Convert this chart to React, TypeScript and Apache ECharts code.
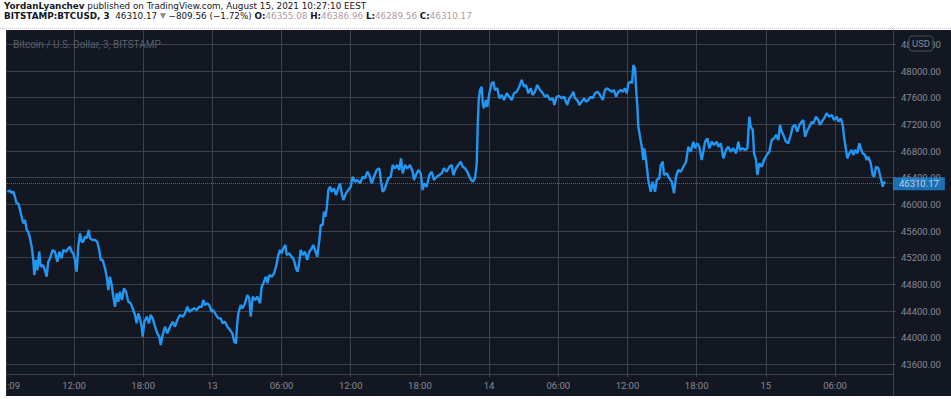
import React, { useEffect, useRef } from "react";
import * as echarts from "echarts";

// Hours since 12 Aug 2021 00:00 (EEST)
const TIME_H = [
  6.22, 6.45, 6.6, 6.74, 6.88, 7.03, 7.17, 7.32, 7.46, 7.6, 7.75, 7.9, 8.04, 8.18, 8.33, 8.47, 8.56, 8.7, 8.82, 8.99,
  9.11, 9.29, 9.42, 9.63, 9.77, 9.92, 10.15, 10.35, 10.55, 10.73, 10.93, 11.07, 11.31, 11.51, 11.65, 11.8, 11.94, 12.09, 12.23, 12.37,
  12.52, 12.67, 12.81, 12.95, 13.1, 13.28, 13.39, 13.62, 13.82, 14.02, 14.19, 14.32, 14.49, 14.69, 14.84, 14.98, 15.12, 15.27, 15.41, 15.56,
  15.7, 15.84, 15.99, 16.16, 16.34, 16.51, 16.71, 16.92, 17.14, 17.29, 17.44, 17.58, 17.72, 17.87, 17.96, 18.1, 18.31, 18.5, 18.65, 18.83,
  19.03, 19.22, 19.4, 19.52, 19.69, 19.89, 20.09, 20.33, 20.56, 20.76, 20.96, 21.19, 21.43, 21.63, 21.83, 22.0, 22.21, 22.41, 22.64, 22.87,
  23.08, 23.21, 23.36, 23.56, 23.73, 23.94, 24.08, 24.32, 24.52, 24.72, 24.9, 25.1, 25.3, 25.53, 25.73, 25.9, 26.05, 26.16, 26.25, 26.46,
  26.63, 26.83, 27.03, 27.2, 27.33, 27.5, 27.7, 27.9, 28.13, 28.28, 28.42, 28.65, 28.77, 28.94, 29.15, 29.35, 29.52, 29.72, 29.87, 30.01,
  30.15, 30.33, 30.45, 30.67, 30.88, 31.08, 31.25, 31.4, 31.54, 31.66, 31.84, 32.03, 32.23, 32.41, 32.62, 32.75, 32.9, 33.1, 33.28, 33.4,
  33.57, 33.68, 33.8, 33.92, 34.06, 34.2, 34.35, 34.55, 34.72, 34.92, 35.07, 35.22, 35.36, 35.59, 35.79, 36.0, 36.17, 36.37, 36.57, 36.81,
  37.04, 37.24, 37.44, 37.61, 37.82, 38.02, 38.25, 38.48, 38.63, 38.77, 38.91, 39.06, 39.26, 39.47, 39.64, 39.84, 40.04, 40.21, 40.36, 40.51,
  40.71, 40.91, 41.14, 41.38, 41.49, 41.66, 41.86, 42.07, 42.24, 42.38, 42.59, 42.82, 43.02, 43.22, 43.46, 43.68, 43.89, 44.09, 44.32, 44.55,
  44.76, 44.9, 45.13, 45.33, 45.54, 45.71, 45.91, 46.11, 46.35, 46.58, 46.78, 46.93, 47.01, 47.1, 47.21, 47.36, 47.45, 47.56, 47.73, 47.85,
  48.02, 48.23, 48.37, 48.51, 48.71, 48.89, 49.1, 49.29, 49.53, 49.75, 49.96, 50.16, 50.4, 50.62, 50.83, 51.03, 51.2, 51.4, 51.61, 51.78,
  51.98, 52.18, 52.42, 52.65, 52.85, 53.05, 53.28, 53.52, 53.66, 53.86, 54.09, 54.3, 54.5, 54.67, 54.78, 54.96, 55.17, 55.3, 55.45, 55.65,
  55.83, 56.03, 56.23, 56.41, 56.61, 56.81, 56.99, 57.19, 57.39, 57.62, 57.86, 58.05, 58.25, 58.43, 58.64, 58.84, 59.01, 59.21, 59.42, 59.59,
  59.79, 59.94, 60.08, 60.28, 60.4, 60.51, 60.66, 60.74, 60.86, 60.94, 61.09, 61.24, 61.38, 61.46, 61.61, 61.81, 62.02, 62.19, 62.39, 62.54,
  62.76, 62.89, 63.06, 63.17, 63.41, 63.63, 63.84, 64.04, 64.21, 64.41, 64.62, 64.85, 65.08, 65.28, 65.49, 65.71, 65.86, 66.06, 66.23, 66.44,
  66.58, 66.73, 66.93, 67.1, 67.31, 67.51, 67.74, 67.88, 68.09, 68.32, 68.55, 68.75, 68.96, 69.18, 69.42, 69.62, 69.76, 70.0, 70.2, 70.4,
  70.57, 70.69, 70.87, 70.98, 71.15, 71.26, 71.44, 71.65, 71.85, 72.08, 72.3, 72.51, 72.71, 72.89, 73.09, 73.23, 73.38, 73.52, 73.75, 73.95,
  74.16, 74.33, 74.53, 74.73, 74.91, 75.11, 75.25, 75.4, 75.55, 75.77, 75.98, 76.12, 76.35, 76.55, 76.7, 76.85, 77.05, 77.28, 77.51, 77.72,
  77.92, 78.15, 78.29, 78.5, 78.67, 78.78, 78.96, 79.07, 79.24, 79.45, 79.59, 79.74, 79.94, 80.11, 80.23, 80.4, 80.6, 80.75, 80.89, 81.1,
  81.27, 81.39, 81.56, 81.76, 81.97, 82.14, 82.25, 82.34,
];

// BTC/USD price (Bitstamp, 3-minute)
const PRICE = [
  46189, 46204, 46170, 46189, 46114, 46015, 46015, 45915, 45814, 45715, 45765, 45615, 45589, 45490, 45364, 45165, 44940, 45165, 45015, 45289,
  45064, 45090, 45040, 44914, 45139, 45190, 45315, 45289, 45139, 45289, 45190, 45315, 45289, 45340, 45364, 45289, 45265, 45165, 44989, 45364,
  45565, 45439, 45439, 45514, 45490, 45615, 45490, 45465, 45465, 45439, 45315, 45165, 45165, 45040, 44914, 44715, 44914, 44790, 44614, 44464,
  44665, 44539, 44689, 44565, 44740, 44689, 44539, 44515, 44415, 44340, 44215, 44365, 44290, 44164, 44014, 44239, 44314, 44215, 44340, 44290,
  44164, 44065, 44014, 43890, 44040, 44164, 44065, 44164, 44239, 44164, 44265, 44340, 44314, 44365, 44464, 44389, 44415, 44440, 44415, 44464,
  44464, 44565, 44490, 44515, 44490, 44389, 44415, 44340, 44290, 44290, 44215, 44239, 44164, 44115, 44065, 43939, 43915, 44215, 44365, 44490,
  44440, 44515, 44640, 44590, 44314, 44614, 44565, 44614, 44515, 44764, 44815, 44914, 44815, 44940, 44914, 44965, 45064, 45240, 45315, 45265,
  45340, 45390, 45240, 45265, 45214, 45165, 45040, 44989, 45139, 45315, 45240, 45289, 45165, 45289, 45340, 45390, 45315, 45214, 45465, 45690,
  45690, 45889, 45814, 45940, 46215, 46264, 46189, 46240, 46140, 46240, 46315, 46165, 46065, 46165, 46215, 46264, 46414, 46339, 46365, 46315,
  46414, 46390, 46489, 46440, 46315, 46414, 46515, 46540, 46339, 46189, 46215, 46290, 46390, 46414, 46590, 46540, 46590, 46515, 46690, 46465,
  46590, 46540, 46590, 46489, 46365, 46440, 46515, 46465, 46215, 46315, 46264, 46440, 46489, 46365, 46414, 46440, 46465, 46540, 46489, 46564,
  46590, 46440, 46540, 46590, 46639, 46564, 46540, 46489, 46390, 46339, 46390, 46615, 47164, 47565, 47715, 47764, 47515, 47440, 47565, 47464,
  47665, 47815, 47839, 47715, 47740, 47590, 47640, 47565, 47665, 47614, 47565, 47665, 47689, 47764, 47865, 47764, 47790, 47665, 47740, 47640,
  47689, 47790, 47715, 47665, 47614, 47640, 47565, 47590, 47490, 47614, 47625, 47590, 47614, 47539, 47490, 47590, 47640, 47689, 47590, 47565,
  47490, 47539, 47590, 47539, 47565, 47614, 47590, 47665, 47689, 47640, 47565, 47715, 47740, 47715, 47689, 47715, 47614, 47689, 47715, 47689,
  47740, 47665, 47815, 47839, 47815, 48090, 48040, 47764, 47464, 47164, 47014, 46864, 46665, 46840, 46665, 46365, 46189, 46339, 46189, 46365,
  46390, 46590, 46639, 46440, 46465, 46390, 46339, 46165, 46414, 46515, 46489, 46564, 46639, 46864, 46789, 46939, 46840, 46915, 46864, 46665,
  46789, 46939, 46990, 46840, 46939, 46890, 46939, 46864, 46915, 46690, 46815, 46864, 46789, 46840, 46765, 46939, 46815, 46840, 46815, 46840,
  47314, 47164, 47115, 46765, 46665, 46440, 46615, 46564, 46665, 46740, 46789, 46965, 46990, 47040, 46965, 47190, 47089, 47040, 46939, 46915,
  47040, 47164, 47190, 47089, 47190, 47239, 47265, 47014, 47089, 47164, 47239, 47215, 47314, 47265, 47190, 47239, 47290, 47365, 47314, 47340,
  47265, 47314, 47239, 47290, 47190, 47014, 46815, 46690, 46765, 46815, 46740, 46815, 46765, 46915, 46840, 46765, 46740, 46665, 46714, 46615,
  46440, 46414, 46564, 46540, 46390, 46264, 46339, 46310.17,
];

const PRICE_TICKS = [43600, 44000, 44400, 44800, 45200, 45600, 46000, 46400, 46800, 47200, 47600, 48000, 48400];
const TIME_TICKS = [12, 18, 24, 30, 36, 42, 48, 54, 60, 66, 72, 78];
const LAST_PRICE = 46310.17;
const X_RANGE = [6.19, 83.03];
const Y_RANGE = [43455, 48615];

const HEADER_1 = "{b|YordanLyanchev}{n| published on TradingView.com, August 15, 2021 10:27:10 EEST}";
const HEADER_2 =
  "{b|BITSTAMP:BTCUSD, 3}{n|  46310.17 }{g|▼}{n| −809.56 (−1.72%) }{b|O:}{v|46355.08 }{b|H:}{v|46386.96 }{b|L:}{v|46289.56 }{b|C:}{v|46310.17}";
const LEGEND = "Bitcoin / U.S. Dollar, 3, BITSTAMP";

const BG = "#131722";
const GRID = "#3d414d";
const AXIS_TXT = "#868993";
const BLUE = "#2196f3";
const FONT = "Roboto, 'Noto Sans', sans-serif";
const HFONT = "'DejaVu Sans'";
const HSIZE = 8.8;

function timeLabel(v: number): string {
  const h = Math.round(v);
  if (h % 24 === 0) return String(12 + h / 24);
  return String(h % 24).padStart(2, "0") + ":00";
}

export default function App() {
  const ref = useRef<HTMLDivElement>(null);
  useEffect(() => {
    if (!ref.current) return;
    const chart = echarts.init(ref.current, null, { renderer: "svg" });
    const data = TIME_H.map((t, i) => [t, PRICE[i]]);
    chart.setOption({
      animation: false,
      backgroundColor: "transparent",
      grid: { left: 7, right: 58, top: 30, bottom: 25, containLabel: false },
      xAxis: {
        type: "value",
        min: X_RANGE[0],
        max: X_RANGE[1],
        axisLine: { show: true, lineStyle: { color: GRID, width: 1 } },
        axisTick: { show: true, length: 3, customValues: TIME_TICKS, lineStyle: { color: GRID } },
        axisLabel: {
          customValues: TIME_TICKS,
          formatter: (v: number) => timeLabel(v),
          color: AXIS_TXT,
          fontSize: 9.5,
          fontFamily: FONT,
          margin: 6,
        },
        splitLine: { show: true, lineStyle: { color: GRID, width: 1 } },
      },
      yAxis: {
        type: "value",
        position: "right",
        min: Y_RANGE[0],
        max: Y_RANGE[1],
        axisLine: { show: true, lineStyle: { color: GRID, width: 1 } },
        axisTick: { show: true, length: 3, customValues: PRICE_TICKS, lineStyle: { color: GRID } },
        axisLabel: {
          customValues: PRICE_TICKS,
          formatter: (v: number) => v.toFixed(2),
          color: AXIS_TXT,
          fontSize: 9.5,
          fontFamily: FONT,
          margin: 8,
        },
        splitLine: { show: true, lineStyle: { color: GRID, width: 1 } },
      },
      series: [
        {
          type: "line",
          data,
          showSymbol: false,
          lineStyle: { color: BLUE, width: 2.4 },
          markLine: {
            silent: true,
            symbol: ["none", "none"],
            data: [{ yAxis: LAST_PRICE }],
            lineStyle: { type: "dotted", color: BLUE, width: 1, opacity: 0.7 },
            label: {
              show: true,
              position: "end",
              distance: 0,
              formatter: () => LAST_PRICE.toFixed(2),
              backgroundColor: BLUE,
              color: "#ffffff",
              fontSize: 9.5,
              fontFamily: FONT,
              padding: [2, 6, 1, 6],
            },
          },
        },
      ],
      graphic: [
        {
          type: "text",
          left: 4,
          top: 1,
          z: 100,
          style: {
            text: HEADER_1,
            font: HSIZE + "px " + HFONT,
            rich: {
              b: { fontWeight: "bold", fontSize: HSIZE, fontFamily: HFONT, fill: "#131722" },
              n: { fontSize: HSIZE, fontFamily: HFONT, fill: "#131722" },
            },
          },
        },
        {
          type: "text",
          left: 4,
          top: 11,
          z: 100,
          style: {
            text: HEADER_2,
            font: HSIZE + "px " + HFONT,
            rich: {
              b: { fontWeight: "bold", fontSize: HSIZE, fontFamily: HFONT, fill: "#131722" },
              n: { fontSize: HSIZE, fontFamily: HFONT, fill: "#131722" },
              g: { fontSize: 7.5, fontFamily: HFONT, fill: "#8a8a8a" },
              v: { fontSize: HSIZE, fontFamily: HFONT, fill: "#ad9ca1" },
            },
          },
        },
        {
          type: "line",
          z: 100,
          shape: { x1: 0, y1: 28.5, x2: 951, y2: 28.5 },
          style: { stroke: "#c8c8c8", lineWidth: 1, lineDash: [1, 1] },
        },
        {
          type: "text",
          x: 13,
          y: 44,
          z: 100,
          style: {
            text: LEGEND,
            fill: "#5b5f6b",
            font: "10px " + FONT,
            verticalAlign: "middle",
          },
        },
        {
          type: "rect",
          z: 100,
          shape: { x: 909, y: 36, width: 24, height: 15, r: 3 },
          style: { fill: BG, stroke: "#4a4e5a", lineWidth: 1 },
        },
        {
          type: "text",
          x: 921,
          y: 43.5,
          z: 101,
          style: {
            text: "USD",
            fill: AXIS_TXT,
            font: "9.5px " + FONT,
            align: "center",
            verticalAlign: "middle",
          },
        },
        {
          type: "text",
          x: 7,
          y: 385,
          z: 100,
          style: {
            text: ":09",
            fill: AXIS_TXT,
            font: "9.5px " + FONT,
            verticalAlign: "middle",
          },
        },
        {
          type: "line",
          z: 100,
          shape: { x1: 893.5, y1: 374, x2: 893.5, y2: 396 },
          style: { stroke: GRID, lineWidth: 1 },
        },
      ],
    });
    return () => chart.dispose();
  }, []);

  return (
    <div style={{ position: "fixed", left: 0, top: 0, width: 951, height: 399, background: "#ffffff" }}>
      <div
        style={{
          position: "absolute",
          left: 6,
          top: 30,
          width: 945,
          height: 366,
          background: BG,
          borderLeft: "1px solid #2a2e39",
          boxSizing: "border-box",
        }}
      />
      <div ref={ref} style={{ position: "absolute", left: 0, top: 0, width: 951, height: 399 }} />
    </div>
  );
}
